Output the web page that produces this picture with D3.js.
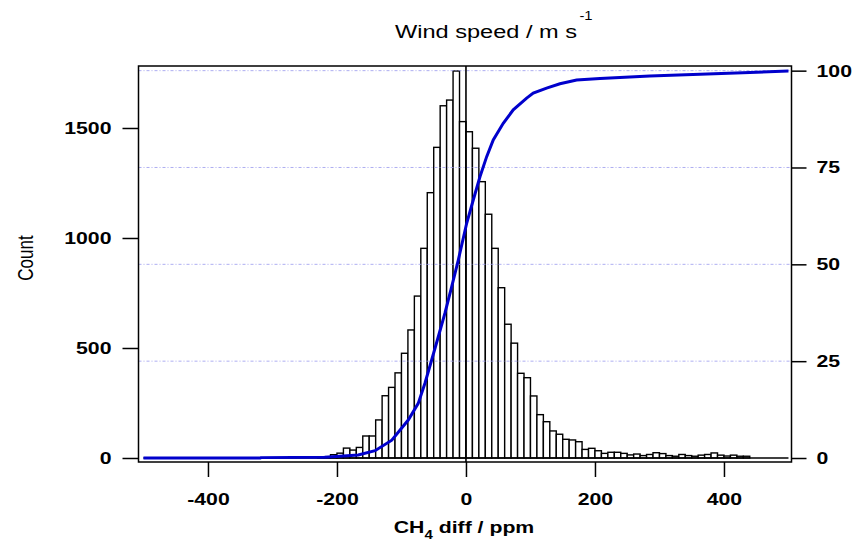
<!DOCTYPE html>
<html>
<head>
<meta charset="utf-8">
<script src="https://cdn.jsdelivr.net/npm/d3@7"></script>
<style>
  body { margin: 0; background: #fff; }
  text { font-family: "Liberation Sans", Arial, sans-serif; }
</style>
</head>
<body>
<div id="chart"></div>
<script>
// histogram of CH4 differences, 10 ppm bins starting at -230
const binStart = -230, binWidth = 10;
const counts = [3, 6, 15, 22, 45, 36, 48, 100, 100, 173,
    283, 321, 387, 476, 582, 736, 953, 1206, 1412, 1601,
    1627, 1759, 1529, 1483, 1408, 1256, 1108, 953, 774, 608,
    522, 385, 365, 282, 197, 165, 123, 108, 85, 82,
    74, 39, 44, 33, 21, 26, 26, 21, 14, 18,
    11, 16, 24, 20, 11, 8, 16, 11, 8, 13,
    16, 23, 13, 9, 13, 8, 8];

// cumulative curve (right axis, %)
const cdfPpm = [-500, -319, -318, -219, -167, -141, -115, -89.5, -74, -63.6, -53.2, -42.9,
    -32.6, -22.2, -11.9, 1.1, 11.3, 21.7, 32.1, 42.3, 57.8, 73.3, 94.1, 104.3, 125,
    145.7, 171.6, 207.8, 285, 363, 500];
const cdfPct = [0, 0, 0.1, 0.2, 0.8, 1.9, 4.6, 9.8, 14.1, 19.3, 25.3, 31.3,
    37.4, 44.2, 51.1, 60.6, 66.6, 72.6, 77.8, 82.1, 86.4, 89.9, 92.9, 94.2, 95.5,
    96.6, 97.6, 98.0, 98.6, 99.1, 99.9];

const xTicks = [-400, -200, 0, 200, 400];
const countTicks = [0, 500, 1000, 1500];
const pctTicks = [0, 25, 50, 75, 100];

const W = 856, H = 542;
const sx = 1.25; // text in the original is stretched sideways

let svg = d3.select("#chart").append("svg")
    .attr("width", W).attr("height", H);

let x = d3.scaleLinear().domain([-507.7, 504.7]).range([138.5, 791.5]);
let yL = d3.scaleLinear().domain([-18.2, 1781.8]).range([462, 66]);
let yR = d3.scaleLinear().domain([-1.03, 101.2]).range([462, 66]);

function stretch(sel) {
    sel.each(function () {
        let t = d3.select(this);
        let tx = +t.attr("x") || 0, ty = +t.attr("y") || 0;
        t.attr("x", 0).attr("y", 0)
         .attr("transform", "translate(" + tx + "," + ty + ") scale(" + sx + ",1)");
    });
}

// bars
let bins = counts.map((c, i) => ({lo: binStart + i * binWidth, c: c}));
svg.append("g")
    .selectAll("rect")
    .data(bins)
    .enter()
    .append("rect")
    .attr("x", d => x(d.lo))
    .attr("width", d => x(d.lo + binWidth) - x(d.lo))
    .attr("y", d => yL(d.c))
    .attr("height", d => yL(0) - yL(d.c))
    .attr("fill", "#fff")
    .attr("stroke", "#000")
    .attr("stroke-width", 1.4);

// baseline of the histogram
svg.append("line")
    .attr("x1", x(-500)).attr("x2", x(500))
    .attr("y1", yL(0)).attr("y2", yL(0))
    .attr("stroke", "#000").attr("stroke-width", 1.4);

// dotted grid at right-axis ticks
svg.append("g")
    .selectAll("line")
    .data(pctTicks.filter(d => d > 0))
    .enter()
    .append("line")
    .attr("x1", x.range()[0]).attr("x2", x.range()[1])
    .attr("y1", d => yR(d)).attr("y2", d => yR(d))
    .attr("stroke", "#9a9aee")
    .attr("stroke-opacity", 0.8)
    .attr("stroke-dasharray", "3,2,1,2")
    .attr("stroke-width", 1);

// zero line
svg.append("line")
    .attr("x1", x(0)).attr("x2", x(0))
    .attr("y1", 66).attr("y2", 462)
    .attr("stroke", "#000").attr("stroke-width", 1.6);

// cumulative curve
let line = d3.line()
    .x((d, i) => x(cdfPpm[i]))
    .y(d => yR(d));
svg.append("path")
    .datum(cdfPct)
    .attr("d", line)
    .attr("fill", "none")
    .attr("stroke", "#0000cc")
    .attr("stroke-width", 3);

// frame
svg.append("rect")
    .attr("x", 138.5).attr("y", 66)
    .attr("width", 791.5 - 138.5).attr("height", 462 - 66)
    .attr("fill", "none").attr("stroke", "#000").attr("stroke-width", 1.5);

// axes
let gx = svg.append("g")
    .attr("transform", "translate(0,462)")
    .call(d3.axisBottom(x).tickValues(xTicks).tickFormat(d3.format("d"))
        .tickSize(15).tickPadding(16).tickSizeOuter(0));
let gl = svg.append("g")
    .attr("transform", "translate(138.5,0)")
    .call(d3.axisLeft(yL).tickValues(countTicks).tickFormat(d3.format("d"))
        .tickSize(16).tickPadding(11).tickSizeOuter(0));
let gr = svg.append("g")
    .attr("transform", "translate(791.5,0)")
    .call(d3.axisRight(yR).tickValues(pctTicks).tickFormat(d3.format("d"))
        .tickSize(15).tickPadding(10).tickSizeOuter(0));

[gx, gl, gr].forEach(g => {
    g.select(".domain").remove();
    g.selectAll(".tick line").attr("stroke", "#000").attr("stroke-width", 1.5);
    g.selectAll(".tick text")
        .attr("fill", "#000")
        .style("font-size", "17px")
        .style("font-weight", "bold")
        .call(stretch);
});
gx.selectAll(".tick text").text(d => d < 0 ? "-" + Math.abs(d) : d);

// x title
let xt = svg.append("text")
    .attr("transform", "translate(464,533) scale(" + sx + ",1)")
    .attr("text-anchor", "middle")
    .style("font-size", "17px")
    .style("font-weight", "bold");
xt.append("tspan").text("CH");
xt.append("tspan").attr("dy", 6).style("font-size", "12px").text("4");
xt.append("tspan").attr("dy", -6).text(" diff / ppm");

// left title
svg.append("text")
    .attr("transform", "translate(33,258) scale(" + sx + ",1) rotate(-90)")
    .attr("text-anchor", "middle")
    .style("font-size", "17px")
    .text("Count");

// top title
let tt = svg.append("text")
    .attr("transform", "translate(395,38) scale(1.24,1)")
    .style("font-size", "19px");
tt.append("tspan").text("Wind speed / m s");
tt.append("tspan").attr("dx", 2).attr("dy", -18).style("font-size", "12px").text("-1");
</script>
</body>
</html>
